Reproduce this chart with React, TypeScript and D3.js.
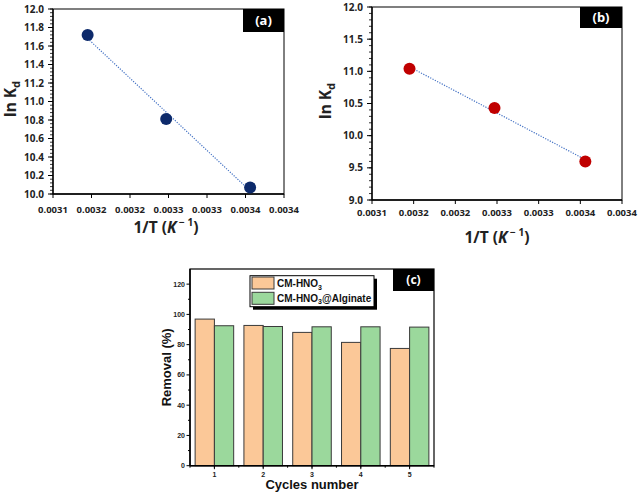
import React from "react";
import * as d3 from "d3";

// ---------- data ----------
const invT = [0.003145, 0.003247, 0.003356];
const lnKdA = [11.72, 10.81, 10.07];
const lnKdB = [11.04, 10.43, 9.6];
const xTickValues = [0.0031, 0.00315, 0.0032, 0.00325, 0.0033, 0.00335, 0.0034];
const xTickLabels = ["0.0031", "0.0032", "0.0032", "0.0033", "0.0033", "0.0034", "0.0034"];
const yTicksA = [10.0, 10.2, 10.4, 10.6, 10.8, 11.0, 11.2, 11.4, 11.6, 11.8, 12.0];
const yTicksB = [9.0, 9.5, 10.0, 10.5, 11.0, 11.5, 12.0];

const cycles = [1, 2, 3, 4, 5];
const removalCM = [96.9, 92.7, 88.1, 81.5, 77.5];
const removalAlg = [92.5, 92.0, 91.8, 91.8, 91.6];
const removalTicks = [0, 20, 40, 60, 80, 100, 120];
const seriesNames = ["CM-HNO", "CM-HNO"];
const seriesSuffix = ["", "@Alginate"];
const seriesColors = ["#fbc898", "#9bd89c"];

const SANS = "'Noto Sans', 'Open Sans', sans-serif";
const ARIAL = "'Liberation Sans', Arial, sans-serif";

type ScatterProps = {
  left: number; right: number; top: number; bottom: number;
  ys: number[]; yDomain: [number, number]; yTicks: number[]; minorStep: number;
  color: string; tag: string; tagW: number; tagH: number;
  titleY: number; titleX: number; ylabX: number; ylabY: number; tickY: number;
};

function Scatter(p: ScatterProps) {
  const x = d3.scaleLinear().domain([0.0031, 0.0034]).range([p.left, p.right]);
  const y = d3.scaleLinear().domain(p.yDomain).range([p.bottom, p.top]);
  const minor = d3.range(p.yDomain[0], p.yDomain[1] + 1e-9, p.minorStep);
  // linear regression trendline
  const n = invT.length;
  const mx = d3.mean(invT)!;
  const my = d3.mean(p.ys)!;
  let sxy = 0, sxx = 0;
  for (let i = 0; i < n; i++) {
    sxy += (invT[i] - mx) * (p.ys[i] - my);
    sxx += (invT[i] - mx) ** 2;
  }
  const slope = sxy / sxx;
  const icpt = my - slope * mx;
  const xa = d3.min(invT)!, xb = d3.max(invT)!;
  const line = d3.line<number>().x((d) => x(d)).y((d) => y(icpt + slope * d));
  return (
    <g>
      <rect x={p.left} y={p.top} width={p.right - p.left} height={p.bottom - p.top}
        fill="white" stroke="#000" strokeWidth={1} />
      {minor.map((v, i) => (
        <line key={"m" + i} x1={p.left - 3} x2={p.left} y1={y(v)} y2={y(v)} stroke="#000" strokeWidth={0.8} />
      ))}
      {p.yTicks.map((v, i) => (
        <g key={"y" + i}>
          <line x1={p.left - 5} x2={p.left} y1={y(v)} y2={y(v)} stroke="#000" strokeWidth={1} />
          <text x={p.left - 9} y={y(v)} dy="0.35em" textAnchor="end" fontFamily={SANS}
            fontWeight="bold" fontSize={10} fill="#222">{d3.format(".1f")(v)}</text>
        </g>
      ))}
      {xTickValues.map((v, i) => (
        <g key={"x" + i}>
          <line x1={x(v)} x2={x(v)} y1={p.bottom} y2={p.bottom + 4} stroke="#000" strokeWidth={1} />
          <text x={x(v)} y={p.tickY} textAnchor="middle" fontFamily={SANS}
            fontWeight="bold" fontSize={9.5} fill="#222">{xTickLabels[i]}</text>
        </g>
      ))}
      <line x1={p.left} x2={p.left} y1={p.top} y2={p.bottom} stroke="#000" strokeWidth={1.3} />
      <line x1={p.left} x2={p.right} y1={p.bottom} y2={p.bottom} stroke="#000" strokeWidth={1.3} />
      <path d={line([xa, xb]) || ""} fill="none" stroke="#4472c4" strokeWidth={1.2} strokeDasharray="1.2 1.4" />
      {invT.map((v, i) => (
        <circle key={"p" + i} cx={x(v)} cy={y(p.ys[i])} r={6} fill={p.color} />
      ))}
      <rect x={p.right - p.tagW} y={p.top} width={p.tagW} height={p.tagH} fill="#000" />
      <text x={p.right - p.tagW / 2} y={p.top + p.tagH / 2} dy="0.36em" textAnchor="middle"
        fontFamily={SANS} fontWeight="bold" fontSize={13} fill="#fff">{p.tag}</text>
      <text x={p.titleX} y={p.titleY} textAnchor="middle" fontFamily={SANS} fontWeight="bold"
        fontSize={15.5} fill="#222">
        1/T (<tspan fontStyle="italic">K</tspan>
        <tspan fontSize={10} dy={-7}>{" \u2212 1"}</tspan>
        <tspan dy={7}>)</tspan>
      </text>
      <text transform={`translate(${p.ylabX},${p.ylabY}) rotate(-90)`} textAnchor="middle"
        fontFamily={SANS} fontWeight="bold" fontSize={15.5} fill="#222">
        ln K<tspan fontSize={11} dy={4}>d</tspan>
      </text>
    </g>
  );
}

function Bars() {
  const left = 190, right = 434, top = 269, bottom = 465.7;
  const x = d3.scaleLinear().domain([0.5, 5.5]).range([left, right]);
  const y = d3.scaleLinear().domain([0, 130]).range([bottom, top]);
  const bw = x(1.395) - x(1);
  const series = [removalCM, removalAlg];
  const minorX = d3.range(0.5, 5.6, 0.5);
  const minorY = d3.range(10, 130, 20);
  return (
    <g>
      <rect x={left} y={top} width={right - left} height={bottom - top} fill="white" stroke="#000" strokeWidth={1.2} />
      {series.map((s, si) =>
        cycles.map((c, i) => (
          <rect key={si + "-" + i} x={si === 0 ? x(c) - bw : x(c)} y={y(s[i])} width={bw}
            height={bottom - y(s[i])} fill={seriesColors[si]} stroke="#3a3a3a" strokeWidth={1} />
        ))
      )}
      {minorY.map((v, i) => (
        <line key={"my" + i} x1={left - 2} x2={left} y1={y(v)} y2={y(v)} stroke="#000" />
      ))}
      {removalTicks.map((v, i) => (
        <g key={"ry" + i}>
          <line x1={left - 3.5} x2={left} y1={y(v)} y2={y(v)} stroke="#000" strokeWidth={1} />
          <text x={left - 5} y={y(v)} dy="0.35em" textAnchor="end" fontFamily={ARIAL}
            fontWeight="bold" fontSize={7} fill="#222">{v}</text>
        </g>
      ))}
      {minorX.map((v, i) => (
        <line key={"mx" + i} x1={x(v)} x2={x(v)} y1={bottom} y2={bottom + 2} stroke="#000" />
      ))}
      {cycles.map((c, i) => (
        <g key={"cx" + i}>
          <line x1={x(c)} x2={x(c)} y1={bottom} y2={bottom + 3.5} stroke="#000" />
          <text x={x(c)} y={477} textAnchor="middle" fontFamily={ARIAL} fontWeight="bold"
            fontSize={7} fill="#222">{c}</text>
        </g>
      ))}
      <line x1={left} x2={left} y1={top} y2={bottom} stroke="#000" strokeWidth={1.5} />
      <line x1={left} x2={right} y1={bottom} y2={bottom} stroke="#000" strokeWidth={1.5} />
      {/* legend */}
      <rect x={253} y={278.7} width={124} height={31} fill="#000" />
      <rect x={250} y={275.7} width={124} height={31} fill="#fff" stroke="#000" strokeWidth={1} />
      {seriesNames.map((nm, i) => (
        <g key={"lg" + i}>
          <rect x={252} y={277 + i * 15.3} width={22} height={12} fill={seriesColors[i]} stroke="#3a3a3a" strokeWidth={1} />
          <text x={277} y={287 + i * 14.8} fontFamily={ARIAL} fontWeight="bold" fontSize={10} fill="#111">
            {nm}<tspan fontSize={7} dy={2.5}>3</tspan><tspan dy={-2.5}>{seriesSuffix[i]}</tspan>
          </text>
        </g>
      ))}
      <rect x={393} y={top} width={right - 393} height={22} fill="#000" />
      <text x={(393 + right) / 2} y={top + 11} dy="0.36em" textAnchor="middle" fontFamily={SANS}
        fontWeight="bold" fontSize={12} fill="#fff">(c)</text>
      <text x={(left + right) / 2} y={489} textAnchor="middle" fontFamily={ARIAL} fontWeight="bold"
        fontSize={13} fill="#111">Cycles number</text>
      <text transform={`translate(171,${(top + bottom) / 2}) rotate(-90)`} textAnchor="middle"
        fontFamily={ARIAL} fontWeight="bold" fontSize={13} fill="#111">Removal (%)</text>
    </g>
  );
}

export default function App() {
  return (
    <svg width={640} height={495} viewBox="0 0 640 495"
      style={{ position: "absolute", left: 0, top: 0, background: "#fff" }}>
      <rect width={640} height={495} fill="#fff" />
      <Scatter left={53} right={284} top={9} bottom={194} ys={lnKdA} yDomain={[10, 12]}
        yTicks={yTicksA} minorStep={0.04} color="#0d2a6b" tag="(a)" tagW={41} tagH={23}
        titleX={166} titleY={233} ylabX={15.5} ylabY={99} tickY={212.5} />
      <Scatter left={372} right={622} top={7} bottom={200} ys={lnKdB} yDomain={[9, 12]}
        yTicks={yTicksB} minorStep={0.1} color="#c00000" tag="(b)" tagW={42} tagH={21}
        titleX={497} titleY={243} ylabX={331} ylabY={101} tickY={216} />
      <Bars />
    </svg>
  );
}
